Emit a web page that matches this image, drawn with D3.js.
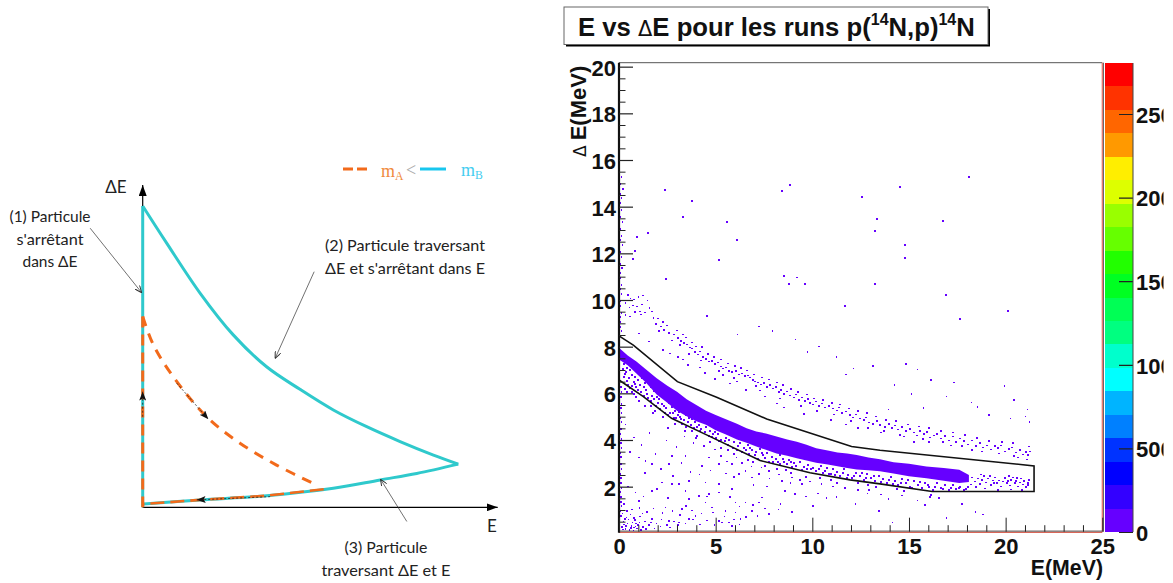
<!DOCTYPE html>
<html><head><meta charset="utf-8">
<script src="https://cdn.jsdelivr.net/npm/d3@7"></script>
<style>html,body{margin:0;background:#fff}svg{display:block}
.b{font-family:"Liberation Sans",Arial,sans-serif;font-weight:bold;fill:#111}
.h{font-family:Lato,"Open Sans",sans-serif;fill:#222;font-size:15px}
</style></head><body><div id="c"></div>
<script>
// ---------- left sketch (arbitrary units, 0..100 on each axis)
const sketchUpper=[[0,93.5],[6.8,81.9],[16.2,66.4],[25.5,53.5],[34.9,43.6],[44.3,36.6],[53.7,30.2],[63.1,25],[72.5,20.4],[81.9,16.2],[88.9,13.4]];
const sketchLower=[[88.9,13.4],[77.2,10.5],[66.9,8.5],[53.7,5.9],[34.9,3.6],[16.2,2.3],[0.2,1]];
const sketchVertical=[[0,93.5],[0,0]];
const orangeCurve=[[0,59.2],[3,50.4],[8.6,40.5],[18,28.1],[27.4,19.9],[37.7,13.1],[49,6.9]];
const orangeLower=[[51,5.6],[34.9,3.6],[16.2,2.3],[0.2,1]];
const orangeVertical=[[0,59.2],[0,0]];
const thinArrows=[[[-14.8,86.6],[-0.3,66.6]],[[48.3,73.1],[37.3,46.2]],[[74.4,-4.4],[67,8.7]]];
const dottedArrows=[[[9.6,38.5],[18.5,27.3]],[[0,28.1],[0,35.9]],[[35.9,3.3],[15.2,2.3]]];
// ---------- right plot values (E MeV, dE MeV)
const bandE=[0,0.45,0.9,1.4,1.95,2.5,3,3.5,4,4.5,5,5.5,6.1,6.6,7.1,7.6,8.15,8.7,9.2,9.7,10.2,10.8,11.3,11.8,12.3,12.9,13.5,14.2,15,15.9,16.8,17.6,18.1];
const bandTop=[7.95,7.62,7.36,7.02,6.65,6.32,6.07,5.75,5.5,5.25,5.07,4.9,4.7,4.5,4.36,4.28,4.15,4.02,3.93,3.8,3.65,3.55,3.46,3.42,3.36,3.25,3.17,3.05,2.98,2.86,2.8,2.72,2.5];
const bandBottom=[7.45,7.2,6.85,6.45,5.95,5.6,5.25,5.02,4.8,4.65,4.42,4.25,4.02,3.88,3.72,3.58,3.42,3.33,3.22,3.12,3.02,2.95,2.88,2.8,2.74,2.7,2.66,2.56,2.45,2.36,2.25,2.16,2.2];
const gate=[[0,8.46],[0.74,8.07],[3.02,6.5],[5.05,5.83],[7.64,4.9],[12.03,3.72],[13.5,3.56],[21.47,2.89],[21.47,1.79],[16.2,1.79],[13.5,2.12],[11.95,2.29],[9.88,2.6],[7.3,3.12],[4.53,4.22],[2.72,4.93],[1.26,5.86],[0,6.57]];
const isolated=[[2.34,14.75],[3.74,14.28],[3.27,13.59],[5.55,13.38],[8.81,14.96],[8.4,14.71],[1.46,12.9],[0.9,12.73],[6.07,12.6],[0.79,12.13],[0.69,11.79],[5.14,11.75],[2.39,10.93],[8.5,11.06],[9.17,11],[8.75,10.72],[9.59,10.72],[11.66,9.78],[4.52,9.35],[18.07,15.3],[14.5,14.88],[12.54,14.45],[13.31,13.5],[16.72,13.42],[13.2,12.99],[14.76,12.39],[14.76,11.83],[13.2,10.72],[16.88,10.25],[20.09,9.56],[17.6,9.22],[0.42,10.25],[0.55,10.1],[0.73,10.05],[0.96,10.17],[1.2,10.22],[1.44,10.02],[0.3,9.9],[0.5,9.72],[0.68,9.8],[0.9,9.75],[1.15,9.85],[1.3,9.5],[1.1,9.42],[0.8,9.52],[0.52,9.33],[0.3,9.4],[1.05,9.55],[1.55,9.68],[1.75,9.27],[1.68,9.55],[7.2,8.9],[7.9,8.7],[9.1,8.35],[6.1,8.55],[10.3,8.05],[11.2,7.6],[9.7,7.8],[12.1,7.1],[11.7,6.85],[13.1,7.2],[14.8,7.3],[15.4,7.05],[16.1,6.6],[17.3,6.5],[19.9,6.35],[14.2,6.4],[15.1,6],[16.9,5.9],[18.2,5.65],[20.4,5.75],[21.1,5.35],[15.7,5.4],[18.5,5.45],[13.9,5.35],[19.1,5.1],[20.2,4.95],[21,5.05],[21.2,4.8]];
const leftColumn=[[0.1,15.3],[0.05,15],[0.16,14.8],[0.05,14.6],[0.1,14.4],[0.02,14.2],[0.08,13.9],[0.05,13.6],[0.13,13.4],[0.05,13.1],[0.1,12.8],[0.05,12.6],[0.15,12.4],[0.02,12.1],[0.1,11.9],[0.05,11.6],[0.12,11.4],[0.04,11.2],[0.05,11],[0.08,10.7],[0.03,10.5],[0.1,10.3],[0.05,10],[0.03,9.8],[0.1,9.5],[0.05,9.3],[0.03,9.1],[0.05,8.9],[0.08,8.7],[0.06,6.3],[0.09,6.1],[0.06,5.9],[0.1,5.6],[0.06,5.4],[0.08,5.2],[0.05,5],[0.08,4.8],[0.07,4.5],[0.05,4.3],[0.09,4.1],[0.06,3.9],[0.08,3.7],[0.05,3.5],[0.07,3.3],[0.06,3],[0.08,2.8],[0.05,2.6],[0.07,2.4],[0.06,2.2],[0.08,2],[0.05,1.8],[0.07,1.6],[0.06,1.4],[0.08,1.2],[0.05,1],[0.07,0.8]];
const upperBranch=[[1.85,9],[2.1,8.9],[2.3,8.75],[2,8.7],[2.55,8.62],[2.8,8.55],[3,8.4],[3.15,8.28],[3.3,8.2],[3.1,8.1],[3.45,8.12],[3.6,8],[3.75,7.95],[3.55,7.72],[3.9,7.8],[4.05,7.7],[4.15,7.82],[4.3,7.6],[4.45,7.5],[4.2,7.45],[4.6,7.4],[4.75,7.42],[4.9,7.3],[5.05,7.35],[5.2,7.18],[5.35,7.1],[5.1,7],[5.5,7.15],[5.65,7],[5.8,6.95],[6,6.98],[6.15,6.85],[5.9,6.7],[6.3,6.88],[6.45,6.78],[6.6,6.8],[6.75,6.72],[6.9,6.6],[7,6.55],[7.15,6.5],[7.3,6.42],[7.05,6.35],[7.45,6.48],[7.6,6.3],[7.75,6.4],[7.9,6.25],[8.05,6.3],[8.2,6.1],[8.35,6.18],[8.5,6],[8.65,6.12],[8.8,5.95],[9,5.85],[9.1,5.98],[9.25,5.75],[9.4,5.85],[9.55,5.7],[9.7,5.78],[9.85,5.62],[10,5.55],[10.15,5.68],[10.3,5.5],[10.45,5.6],[10.6,5.42],[10.8,5.5],[11,5.38],[11.2,5.3],[11.35,5.42],[11.5,5.18],[11.7,5.25],[11.9,5.1],[12.05,5],[12.2,5.12],[12.4,4.95],[12.6,4.88],[12.75,5],[12.9,4.78],[13.1,4.72],[13.3,4.85],[13.45,4.68],[13.7,4.6],[13.9,4.72],[14.05,4.55],[14.2,4.65],[14.4,4.48],[14.6,4.6],[14.8,4.42],[15,4.5],[15.2,4.35],[15.35,4.22],[15.5,4.42],[15.7,4.3],[15.9,4.38],[16.05,4.15],[16.25,4.22],[16.4,4.3],[16.6,4.1],[16.8,4.2],[17,4.02],[17.2,4.18],[17.4,3.95],[17.6,4.1],[17.8,3.98],[18,3.85],[18.2,4.02],[18.4,3.78],[18.6,3.9],[18.8,3.72],[19,3.8],[19.2,3.62],[19.4,3.78],[19.55,3.68],[19.7,3.8],[19.9,3.55],[20.1,3.65],[20.3,3.72],[20.5,3.5],[20.7,3.6],[20.85,3.42],[21,3.52],[21.1,3.38],[21.2,3.55],[21.15,3.75],[20.4,3.35],[17.1,3.8],[16,3.95],[14.7,4.18],[13.5,4.35],[12.3,4.55],[10.9,4.9],[9.5,5.15],[8.5,5.42],[7.5,5.9],[6.5,6.18],[5.7,6.45],[4.4,6.9],[3.5,7.25],[3,7.6],[2.2,7.9],[1.5,8.25],[1,8.6],[4.9,6.65],[8.1,5.6],[11.7,4.7],[15.2,3.95],[18.2,3.6],
[1.95,9.25],[2.2,9.1],[2.45,8.95],[2.7,8.3],[2.95,8.72],[3.25,8.55],[3.4,8.42],[3.7,8.22],[3.95,8.05],[4.25,8.02],[4.55,7.72],[4.85,7.58],[5.25,7.48],[5.6,7.32],[5.95,7.2],[6.25,7.12],[6.55,7.02],[6.95,6.85],[7.35,6.72],[7.7,6.62],[8.1,6.5],[8.45,6.38],[8.85,6.22],[9.2,6.1],[9.65,5.98],[10.05,5.82],[10.5,5.75],[10.95,5.62],[11.4,5.55],[11.85,5.38],[12.3,5.28],[12.8,5.18],[13.25,5.05],[13.75,4.9],[14.3,4.85],[14.9,4.7],[15.45,4.62],[16,4.55],[16.6,4.42],[17.25,4.35],[17.85,4.25],[18.45,4.12],[19.1,4],[19.75,3.95],[20.35,3.9],[6.05,6.55],[7.25,6.15],[8.3,5.82],[9.35,5.48],[10.2,5.28],[11.05,5.12],[11.95,4.85],[12.85,4.55],[13.65,4.42],[14.5,4.25],[15.65,4.08],[16.7,3.95],[17.7,3.78],[18.7,3.55],[19.6,3.45],[20.6,3.28],[21.05,3.2],[5.35,6.82],[4.15,7.15],[3.25,7.48],[2.6,7.75]];
const fuzz=[[0.2,7.3],[0.35,7.15],[0.5,7.05],[0.3,6.95],[0.6,6.82],[0.2,6.75],[0.45,6.7],[0.8,6.75],[0.95,6.62],[0.7,6.55],[0.35,6.58],[1.15,6.68],[1.05,6.4],[0.85,6.3],[1.3,6.5],[1.5,6.55],[1.6,6.32],[1.35,6.2],[1.1,6.12],[1.75,6.15],[1.9,5.9],[1.65,5.95],[1.45,5.85],[2,5.8],[2.2,6],[2.35,5.8],[2.15,5.6],[1.85,5.5],[2.55,5.65],[2.7,5.45],[2.4,5.4],[2.85,5.3],[2.6,5.2],[3.05,5.25],[3.25,5.35],[3.1,5.05],[2.9,4.98],[3.4,5.12],[3.6,5.2],[3.75,4.95],[3.5,4.82],[3.2,4.75],[3.9,4.8],[4.1,4.7],[4.3,4.85],[4.2,4.5],[3.85,4.55],[4.45,4.62],[4.65,4.42],[4.9,4.4],[4.75,4.18],[5.05,4.28],[5.3,4.42],[5.5,4.15],[5.2,4.05],[5.75,4.28],[5.9,3.95],[5.6,3.85],[6.2,3.9],[6.4,3.72],[6.05,3.62],[6.6,3.85],[6.85,3.6],[6.65,3.45],[7.05,3.52],[7.25,3.65],[7.4,3.4],[7.15,3.25],[7.6,3.5],[7.85,3.3],[7.7,3.12],[8.05,3.25],[8.3,3.38],[8.5,3.12],[8.3,3],[8.75,3.2],[9,3.05],[8.9,2.9],[9.3,3.1],[9.5,2.9],[9.4,2.75],[9.75,2.98],[10,2.85],[10.15,2.7],[10.4,2.92],[10.6,2.72],[10.8,2.6],[11,2.82],[11.2,2.68],[11.4,2.5],[11.6,2.78],[11.8,2.55],[12,2.42],[12.2,2.65],[12.4,2.5],[12.6,2.35],[12.8,2.6],[13,2.42],[13.2,2.3],[13.4,2.52],[13.6,2.38],[13.8,2.2],[14,2.45],[14.2,2.3],[14.4,2.12],[14.6,2.38],[14.8,2.2],[15,2.05],[15.2,2.3],[15.4,2.12],[15.6,1.98],[15.8,2.22],[16,2.05],[16.2,1.92],[16.4,2.18],[16.6,1.98],[16.8,2.1],[17,1.92],[17.2,2.12],[17.4,1.95],[17.6,2.05],[17.8,1.9],[18,2.02],[2.5,4.55],[1.7,5.2],[1,5.7],[0.6,6.1],[5.6,3.6],[8.6,2.75],[6.9,3.1],[4,4.2],[12.3,2.2],[16.1,1.7],[14.7,1.85],[10.9,2.35],
[0.15,7.1],[0.25,6.88],[0.42,6.42],[0.62,6.35],[0.78,6.45],[0.52,6.28],[0.28,6.22],[0.92,6.18],[1.22,6.32],[1.42,6.02],[1.22,5.95],[0.75,6.02],[1.58,5.72],[1.78,5.78],[1.98,5.62],[2.08,5.38],[1.62,5.48],[2.28,5.5],[2.48,5.12],[2.32,5.22],[2.72,5.18],[2.98,5.12],[3.18,4.95],[2.78,5],[3.32,4.88],[3.55,4.98],[3.68,4.7],[3.42,4.62],[3.98,4.62],[4.12,4.42],[4.38,4.38],[3.72,4.42],[4.58,4.22],[4.82,4.3],[4.95,4.12],[5.12,3.98],[5.42,3.98],[5.65,4.05],[5.82,3.72],[6.12,3.78],[6.32,3.55],[6.52,3.62],[6.72,3.72],[6.98,3.38],[7.32,3.5],[7.52,3.28],[7.92,3.12],[8.15,3.12],[8.42,3.25],[8.65,3],[8.82,3.08],[9.12,2.92],[9.65,2.82],[9.88,2.78],[10.28,2.82],[10.52,2.62],[10.72,2.85],[10.92,2.58],[11.12,2.55],[11.52,2.62],[11.72,2.42],[12.12,2.52],[12.52,2.62],[12.72,2.42],[13.12,2.5],[13.52,2.25],[13.92,2.32],[14.12,2.15],[14.52,2.22],[14.92,2.35],[15.12,1.98],[15.52,2.25],[15.92,2.1],[16.32,2.05],[16.72,1.95],[17.12,2],[17.52,1.98],[17.92,1.95],[13.25,2.02],[12.85,2.1],[14.35,1.95],[16.05,1.62],[11.25,2.22],[10.35,2.4],[9.62,2.45],[8.82,2.62],[8.1,2.82],[7.48,2.95],[6.62,3.2],[5.88,3.45],[5.25,3.7],[4.65,3.95],[3.95,4.12],[3.35,4.42],[2.85,4.72],[2.25,5.02],[1.82,5.3],[1.3,5.52],[0.82,5.88],[0.38,6.12]];
const tail=[[18.2,2.42],[18.35,2.25],[18.5,2.38],[18.6,2.15],[18.75,2.32],[18.85,2.48],[18.95,2.22],[19.05,2.38],[19.2,2.1],[19.3,2.3],[19.42,2.42],[19.5,2.18],[19.6,2.3],[19.72,2.05],[19.8,2.25],[19.9,2.4],[20,2.2],[20.08,2.28],[20.18,2.08],[20.25,2.32],[20.35,2.42],[20.42,2.18],[20.5,2.28],[20.6,2.05],[20.68,2.22],[20.75,2.38],[20.85,2.12],[20.92,2.28],[21,2.02],[21.08,2.2],[21.15,2.32],[18.4,2.02],[18.9,1.95],[19.55,1.9],[20.2,1.92],[20.8,1.9],[19.15,2.5],[20.1,2.5],[18.65,2.55],[21.1,2.1],[19.35,2.18],[20.55,2.4],[18.15,2.12]];
const background=[[0.98,3.29],[1.33,3.14],[1.67,3],[2.53,3],[2.71,3.36],[3.4,3.36],[4.26,2.93],[4.6,3.29],[5.12,3],[5.81,3],[6.16,2.57],[6.5,2.71],[6.84,2.43],[7.19,2.57],[7.71,2.71],[8.4,2.29],[8.91,2.43],[9.43,2.14],[2.19,2.21],[3.05,2.14],[3.57,2.29],[4.43,2.21],[5.12,2.14],[5.81,1.93],[3.4,1.86],[4.6,1.71],[5.12,1.79],[7.36,1.57],[7.19,1.36],[8.31,1.29],[6.5,1.36],[5.98,1.36],[0.98,1.43],[1.67,1.86],[1.93,1.93],[0.81,1.79],[2.71,2.14],[3.57,1.5],[4.09,1.64],[4.43,1.36],[4.78,1.14],[2.36,1.14],[3.22,1.07],[3.91,0.79],[5.47,1],[5.98,0.93],[6.84,1],[7.71,0.86],[5.12,0.57],[5.64,0.5],[6.24,0.64],[1.67,0.64],[2.53,0.57],[3.57,0.64],[3.05,0.5],
[0.3,4.7],[0.72,4.15],[1.12,3.82],[0.52,3.52],[1.53,4.33],[1.84,3.44],[2.41,4.02],[2.93,3.73],[3.34,4.18],[3.82,3.91],[4.34,3.78],[4.92,3.62],[5.23,3.35],[5.55,3.12],[6.03,3.28],[6.33,3.05],[6.81,2.9],[7.34,2.86],[7.75,2.38],[8.23,2.55],[8.84,2.2],[9.33,2.32],[9.85,2.25],[10.43,2.15],[11.02,2.05],[11.64,1.98],[12.33,1.88],[12.82,1.74],[13.52,1.7],[1.3,2.62],[2.12,2.8],[2.75,2.48],[3.2,3.05],[3.65,2.66],[4.12,2.55],[4.7,2.72],[5.5,2.6],[5.92,2.45],[6.92,2.1],[7.62,2.05],[8.55,1.85],[9.05,1.72],[9.62,1.62],[10.25,1.75],[0.42,2.05],[1.22,1.62],[2.5,1.55],[3.42,1.2],[4.52,1.62],[5.7,1.6],[6.2,1.18],[6.9,1.25],[7.5,1.1],[8.2,1.05],[8.9,0.95],[10,1.2],[0.22,1.3],[0.62,1.05],[1.02,1.12],[1.42,0.95],[1.75,1.1],[2.2,0.9],[2.72,1],[3.12,0.82],[3.72,1.02],[4.22,0.88],[4.82,0.92],[5.42,0.76],[5.92,0.62],[6.52,0.74],[7.12,0.78],[0.15,0.88],[0.35,0.72],[0.55,0.85],[0.8,0.6],[1.05,0.75],[1.3,0.55],[1.6,0.5],[1.9,0.45],[2.15,0.62],[2.45,0.4],[2.8,0.55],[3.02,0.38],[3.4,0.46],[3.8,0.62],[4.15,0.42],[4.5,0.58],[4.9,0.4],[5.3,0.5],[5.8,0.35],[6.2,0.42],[0.2,0.55],[0.4,0.45],[0.6,0.35],[0.75,0.28],[0.95,0.4],[1.2,0.3],[1.5,0.38],[1.8,0.25],[2.1,0.32],[2.6,0.28],[0.12,0.3],[0.3,0.22],[0.5,0.18],[0.7,0.15],[0.9,0.25],[1.1,0.18],[0.22,0.42],[0.45,0.62],[0.65,0.5],[0.85,0.45],[0.18,0.2],[0.32,0.34],[0.58,0.26],[0.82,0.33],[1.02,0.5],[1.35,0.22],[0.28,0.66],[0.38,0.98],[0.72,0.7],[1.18,0.88],[11.2,1.6],[12.2,1.3],[13.9,1.5],[15.4,1.45],[16.5,1.55],[17.7,1.3],[18.4,0.95],[18.8,0.85],[12.9,1.9],[14.6,1.65],[10.7,1.55],[15.8,1.25],[13.4,1],[16.9,0.7],[14.1,0.5]];
// ---------- axes and scale
const xMajor=[0,5,10,15,20,25];
const xMinor=[1,2,3,4,6,7,8,9,11,12,13,14,16,17,18,19,21,22,23,24];
const yMajor=[2,4,6,8,10,12,14,16,18,20];
const yMinor=[0.5,1,1.5,2.5,3,3.5,4.5,5,5.5,6.5,7,7.5,8.5,9,9.5,10.5,11,11.5,12.5,13,13.5,14.5,15,15.5,16.5,17,17.5,18.5,19,19.5];
const zTicks=[0,500,1000,1500,2000,2500];
const zMax=2805;
const palette=["#6600ff","#3300ff","#0000ff","#0033ff","#0080ff","#00b4ff","#00ffff","#00ffcc","#00ff80","#00ff55","#00ff22","#22ff00","#66ff00","#99ff00","#ddff00","#ffee00","#ff9900","#ff6600","#ff3300","#ff0000"];

const svg=d3.select("#c").append("svg").attr("width",1173).attr("height",583);
// LEFT SKETCH
const sx=d3.scaleLinear().domain([0,100]).range([142.7,497.7]);
const sy=d3.scaleLinear().domain([0,100]).range([507.3,185]);
const sl=d3.line().x(d=>sx(d[0])).y(d=>sy(d[1]));
const sc=d3.line().x(d=>sx(d[0])).y(d=>sy(d[1])).curve(d3.curveCatmullRom);
const defs=svg.append("defs");
const mk=(id,path,w,h,fill,stroke)=>defs.append("marker").attr("id",id).attr("viewBox",`0 0 ${w} ${h}`).attr("refX",w).attr("refY",h/2).attr("markerWidth",w).attr("markerHeight",h).attr("markerUnits","userSpaceOnUse").attr("orient","auto").append("path").attr("d",path).attr("fill",fill).attr("stroke",stroke);
mk("open","M0,0L7,3L0,6",7,6,"none","#333");
mk("solid","M0,0L9,3.5L0,7L2,3.5Z",9,7,"#111","none");
mk("big","M0,0L11,4L0,8Z",11,8,"#000","none");
const sk=svg.append("g");
sk.append("path").attr("d",sl([[0,0],[0,100]])).attr("stroke","#000").attr("stroke-width",1.2).attr("marker-end","url(#big)");
sk.append("path").attr("d",sl([[0,0],[100,0]])).attr("stroke","#000").attr("stroke-width",1.2).attr("marker-end","url(#big)");
const teal="#2fc9cc",orange="#f26a1b";
sk.append("path").attr("d",sl(sketchVertical)).attr("fill","none").attr("stroke",teal).attr("stroke-width",3);
[sketchUpper,sketchLower].forEach(a=>sk.append("path").attr("d",sc(a)).attr("fill","none").attr("stroke",teal).attr("stroke-width",3));
sk.append("path").attr("d",sl(orangeVertical)).attr("fill","none").attr("stroke",orange).attr("stroke-width",3).attr("stroke-dasharray","11 7");
sk.append("path").attr("d",sc(orangeCurve)).attr("fill","none").attr("stroke",orange).attr("stroke-width",3).attr("stroke-dasharray","10 8");
sk.append("path").attr("d",sl(orangeLower)).attr("fill","none").attr("stroke",orange).attr("stroke-width",2.6).attr("stroke-dasharray","14 6");
thinArrows.forEach(a=>sk.append("path").attr("d",sl(a)).attr("fill","none").attr("stroke","#333").attr("stroke-width",.7).attr("marker-end","url(#open)"));
dottedArrows.forEach(a=>sk.append("path").attr("d",sl(a)).attr("fill","none").attr("stroke","#222").attr("stroke-width",.8).attr("stroke-dasharray","2 2").attr("marker-end","url(#solid)"));
// legend
sk.append("path").attr("d","M343,169H367").attr("stroke",orange).attr("stroke-width",3).attr("stroke-dasharray","10 4");
sk.append("path").attr("d","M420,169H446").attr("stroke","#18c6ee").attr("stroke-width",3);
const serif=`"Liberation Serif",serif`;
const lt=(x,y,t,f,sz,sub)=>{const e=sk.append("text").attr("x",x).attr("y",y).attr("font-family",serif).attr("font-size",sz).attr("fill",f).text(t);if(sub)e.append("tspan").attr("font-size",sz*.65).attr("dy",3).text(sub);};
lt(381,177,"m","#f08a3c",18,"A");lt(406,176,"<","#aaa",18);lt(461,176,"m","#45cdf0",18,"B");
const notes=[["(1) Particule",50,222,81],["s'arrêtant",50,245,67],["dans ΔE",50,267,55],["(2) Particule traversant",405,251,160],["ΔE et s'arrêtant dans E",405,274,160],["(3) Particule",386,553,83],["traversant ΔE et E",386,576,129]];
notes.forEach(n=>sk.append("text").attr("class","h").attr("x",n[1]).attr("y",n[2]).attr("text-anchor","middle").attr("textLength",n[3]).attr("lengthAdjust","spacingAndGlyphs").text(n[0]));
sk.append("text").attr("class","h").attr("x",116).attr("y",193).attr("text-anchor","middle").style("font-size","17px").text("ΔE");
sk.append("text").attr("class","h").attr("x",492).attr("y",532).attr("text-anchor","middle").style("font-size","17px").text("E");

// RIGHT PLOT
const x=d3.scaleLinear().domain([0,25]).range([619,1102.3]);
const y=d3.scaleLinear().domain([0.07,20.17]).range([531.7,62.7]);
const z=d3.scaleLinear().domain([0,zMax]).range([532,63]);
const violet="#6600ff";
const pl=svg.append("g");
const bandRows=bandE.map((e,i)=>({e,t:bandTop[i],b:bandBottom[i]}));
pl.append("path").attr("fill",violet).attr("d",d3.area().x(d=>x(d.e)).y0(d=>y(d.b)).y1(d=>y(d.t))(bandRows));
const dotSize=new Map([[isolated,[1.5,1.5]],[leftColumn,[1.5,2]],[upperBranch,[2,1.5]],[fuzz,[2,2]],[tail,[2,1.5]],[background,[1.6,1.6]]]);
[isolated,leftColumn,upperBranch,fuzz,tail,background].forEach(s=>pl.append("g").selectAll("rect").data(s).join("rect").attr("x",d=>x(d[0])).attr("y",d=>y(d[1])).attr("width",dotSize.get(s)[0]).attr("height",dotSize.get(s)[1]).attr("fill",violet).attr("shape-rendering","crispEdges"));
pl.append("path").attr("fill","none").attr("stroke","#111").attr("stroke-width",1.6).attr("d",d3.line().x(d=>x(d[0])).y(d=>y(d[1])).curve(d3.curveLinearClosed)(gate));
// frame
pl.append("path").attr("d",`M${x(0)},${y.range()[1]}H${x(25)}`).attr("stroke","#555").attr("stroke-width",1).attr("fill","none");
pl.append("path").attr("d",`M${x(25)},${y.range()[1]}V${y.range()[0]}`).attr("stroke","#e46a60").attr("stroke-width",1.2);
pl.append("path").attr("d",`M${x(25)+1.2},${y.range()[1]}V${y.range()[0]}`).attr("stroke","#444").attr("stroke-width",.8);
pl.append("path").attr("d",`M${x(0)},${y.range()[0]+.6}H${x(25)}`).attr("stroke","#d0402f").attr("stroke-width",1);
pl.append("path").attr("d",`M${x(0)},${y.range()[0]-.6}H${x(25)}`).attr("stroke","#222").attr("stroke-width",.8);
pl.append("path").attr("d",`M${x(0)},${y.range()[1]}V${y.range()[0]+1}`).attr("stroke","#111").attr("stroke-width",2.2);
// axes
const styl=(g,w)=>{g.select(".domain").remove();g.selectAll("line").attr("stroke","#222").attr("stroke-width",w);g.selectAll("text").attr("class","b").attr("font-size",22).attr("font-family",null).attr("fill","#111");};
const gx=pl.append("g").attr("transform",`translate(0,${y.range()[0]})`);
gx.call(d3.axisBottom(x).tickValues(xMinor).tickSize(-6.5).tickFormat("")).call(g=>styl(g,1));
const gxM=pl.append("g").attr("transform",`translate(0,${y.range()[0]})`);
gxM.call(d3.axisBottom(x).tickValues(xMajor).tickSize(-14).tickPadding(4).tickFormat(d3.format("d"))).call(g=>styl(g,1));
gxM.selectAll("text").attr("dy",0).attr("y",22.5);
const gy=pl.append("g").attr("transform",`translate(${x(0)},0)`);
gy.call(d3.axisLeft(y).tickValues(yMinor).tickSize(-6.5).tickFormat("")).call(g=>styl(g,1));
const gyM=pl.append("g").attr("transform",`translate(${x(0)},0)`);
gyM.call(d3.axisLeft(y).tickValues(yMajor).tickSize(-14).tickPadding(3).tickFormat(d3.format("d"))).call(g=>styl(g,1.2));
gyM.selectAll("text").attr("dy",".38em");
// axis titles
pl.append("text").attr("class","b").attr("font-size",21.3).attr("x",1103).attr("y",575).attr("text-anchor","end").text("E(MeV)");
const yl=pl.append("text").attr("class","b").attr("font-size",22).attr("transform","translate(586,157) rotate(-90)");
yl.append("tspan").attr("font-family","DejaVu Sans").attr("font-weight","normal").attr("font-size",17).text("Δ");
yl.append("tspan").attr("dx",5).text("E(MeV)");
// palette
const cb=svg.append("g");
const bw=zMax/palette.length;
cb.selectAll("rect").data(palette).join("rect").attr("x",1105).attr("width",28).attr("y",(d,i)=>z((i+1)*bw)).attr("height",(d,i)=>z(i*bw)-z((i+1)*bw)).attr("fill",d=>d).attr("shape-rendering","crispEdges");
defs.append("clipPath").attr("id","clipz").append("rect").attr("x",1100).attr("y",40).attr("width",63.5).attr("height",520);
const gz=svg.append("g").attr("clip-path","url(#clipz)").append("g").attr("transform","translate(1133,0)");
gz.call(d3.axisRight(z).tickValues(zTicks).tickSize(-14).tickPadding(3).tickFormat(d3.format("d"))).call(g=>styl(g,1.2));
gz.selectAll("text").attr("dy",".38em");
gz.append("path").attr("d",`M0,63V532`).attr("stroke","#444").attr("stroke-width",1);
// TITLE
const tb=svg.append("g");
tb.append("rect").attr("x",566).attr("y",9).attr("width",424).attr("height",37.5).attr("fill","#000");
tb.append("rect").attr("x",564).attr("y",7).attr("width",424).attr("height",37.5).attr("fill","#fff").attr("stroke","#666").attr("stroke-width",1);
const tt=tb.append("text").attr("class","b").attr("x",578).attr("y",36).attr("font-size",25.7);
tt.append("tspan").text("E vs ");
tt.append("tspan").attr("font-family","DejaVu Sans").attr("font-weight","normal").attr("font-size",21).text("Δ");
tt.append("tspan").text("E pour les runs p(");
tt.append("tspan").attr("font-size",16).attr("dy",-11).text("14");
tt.append("tspan").attr("dy",11).text("N,p)");
tt.append("tspan").attr("font-size",16).attr("dy",-11).text("14");
tt.append("tspan").attr("dy",11).text("N");
</script></body></html>
